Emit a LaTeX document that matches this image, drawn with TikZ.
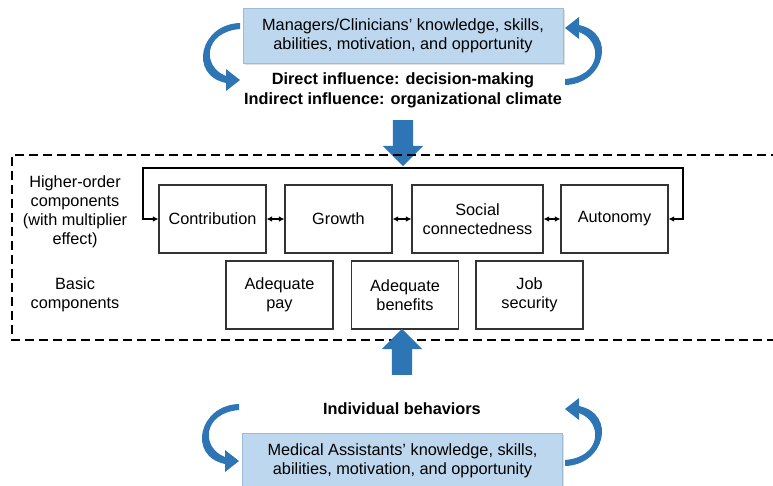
\documentclass[tikz,border=0pt]{standalone}
\usepackage{fontspec}
\setmainfont{Liberation Sans}
\usetikzlibrary{positioning,arrows.meta,shapes.arrows,shadows}
\definecolor{ksafill}{HTML}{BDD7EE}
\definecolor{ksaedge}{HTML}{9DBAD5}
\definecolor{flowblue}{HTML}{2E75B6}
\tikzset{
	txt/.style={font=\fontsize{16.3}{19}\selectfont, align=center, inner sep=0pt},
	boldtxt/.style={txt, font=\fontsize{16.3}{20}\selectfont\bfseries},
	ksabox/.style={txt, fill=ksafill, draw=ksaedge, line width=0.6pt, minimum width=320pt, minimum height=55pt,
		drop shadow={shadow xshift=1.5pt, shadow yshift=-1.5pt, opacity=0.25}},
	compbox/.style={txt, draw=black!80, line width=1.1pt, minimum width=107pt, minimum height=68pt},
	pairarrow/.style={{Latex[length=5.5pt,width=5.5pt]}-{Latex[length=5.5pt,width=5.5pt]}, line width=1.3pt},
	looparrow/.style={{Latex[length=5.5pt,width=5.5pt]}-{Latex[length=5.5pt,width=5.5pt]}, line width=1.8pt},
	bigarrow/.style={single arrow, fill=flowblue, single arrow head extend=10pt,
		minimum height=46pt, inner sep=10pt, single arrow tip angle=90},
	frameline/.style={line width=2pt, dash pattern=on 9pt off 5pt},
	curly/.pic={
		\fill[flowblue] (0,28) .. controls (-40,27) and (-52,-24) .. (-14,-32) -- (-14,-40) -- (0,-29)
			-- (-14,-18) -- (-14,-25) .. controls (-38,-16) and (-37,19) .. (0,22) -- cycle;
	}
}
\begin{document}
\begin{tikzpicture}[x=1pt,y=1pt]
	\useasboundingbox (0,0) rectangle (773,-485);
	\node[ksabox] (mgr) at (403,-35.5) {Managers/Clinicians' knowledge, skills,\\abilities, motivation, and opportunity};
	\node[boldtxt] (influence) at (403,-90) {Direct influence: decision-making\\Indirect influence: organizational climate};
	\pic at (240,-51) {curly};
	\pic[rotate=180] at (565,-57) {curly};
	\node[bigarrow, rotate=-90] (down) at (403,-138) {};

	\draw[frameline] (780,-155) -- (12,-155) -- (12,-340) -- (780,-340);
	\node[txt] (higher) at (75,-212) {Higher-order\\components\\(with multiplier\\effect)};
	\node[txt] (basic) at (75,-295) {Basic\\components};
	\node[compbox] (contrib) at (212.5,-219) {Contribution};
	\node[compbox] (growth) at (338.5,-219) {Growth};
	\node[compbox, minimum width=131pt] (social) at (477.5,-219) {Social\\connectedness};
	\node[compbox] (auton) at (614.5,-219) {Autonomy};
	\node[compbox] (pay) at (279.5,-295) {Adequate\\pay};
	\node[compbox] (benefits) at (405,-295) {Adequate\\benefits};
	\node[compbox] (jobsec) at (529.5,-295) {Job\\security};
	\draw[pairarrow] (contrib) -- (growth);
	\draw[pairarrow] (growth) -- (social);
	\draw[pairarrow] (social) -- (auton);
	\coordinate (loopL) at (143,-168);
	\coordinate (loopR) at (683,-168);
	\draw[looparrow] (contrib.west) -| (loopL) -- (loopR) |- (auton.east);

	\node[bigarrow, rotate=90] (up) at (402,-357) {};
	\node[boldtxt] (indiv) at (402,-409) {Individual behaviors};
	\node[ksabox] (ma) at (402.5,-461) {Medical Assistants' knowledge, skills,\\abilities, motivation, and opportunity};
	\pic at (239,-432) {curly};
	\pic[rotate=180] at (565,-438) {curly};
\end{tikzpicture}
\end{document}
